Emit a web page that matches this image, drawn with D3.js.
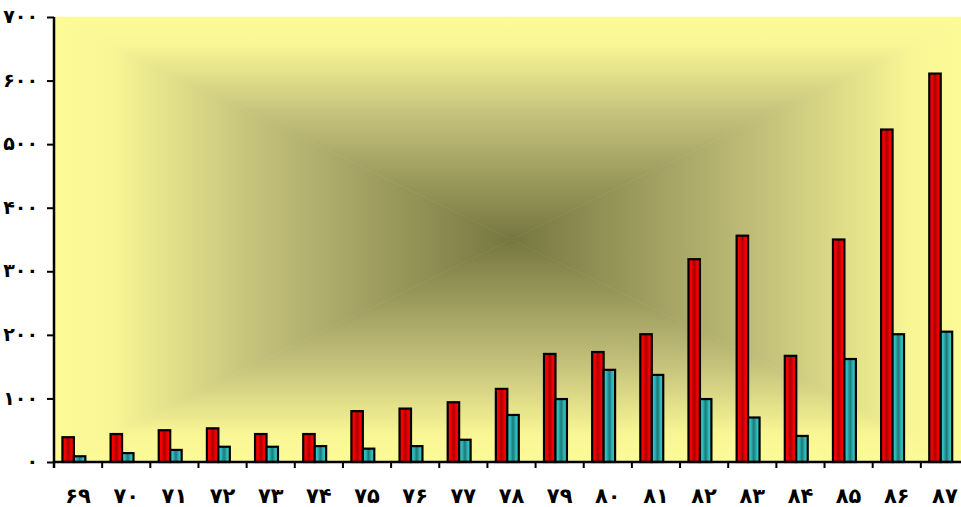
<!DOCTYPE html>
<html>
<head>
<meta charset="utf-8">
<script src="https://cdn.jsdelivr.net/npm/d3@7"></script>
<style>
  body { margin: 0; background: #fff; }
  svg text { font-family: "DejaVu Sans", Tahoma, sans-serif; font-weight: bold; fill: #000; }
</style>
</head>
<body>
<div id="chart"></div>
<script>
var years = [69,70,71,72,73,74,75,76,77,78,79,80,81,82,83,84,85,86,87];
var redValues = [39,44,50,53,44,44,80,84,94,115,170,173,201,319,356,167,350,523,611];
var cyanValues = [9,14,19,24,24,25,21,25,35,74,99,145,137,99,70,41,162,201,205];
var yTicks = [0,100,200,300,400,500,600,700];

var width = 961, height = 507;
var plotLeft = 54, plotRight = 969, plotTop = 17, plotBottom = 462;

function toFa(n){
	var fa = ['۰','۱','۲','۳','۴','۵','۶','۷','۸','۹'];
	return String(n).replace(/[0-9]/g, d => fa[+d]);
}

var svg = d3.select("#chart").append("svg")
	.attr("width", width)
	.attr("height", height);

var defs = svg.append("defs");

var x = d3.scaleBand().domain(years).range([plotLeft, plotRight]).paddingInner(0).paddingOuter(0);
var y = d3.scaleLinear().domain([0, 700]).range([plotBottom, plotTop]);

// background: rectangular gradient from center, done with four triangles
var cx = (plotLeft + plotRight) / 2, cy = (plotTop + plotBottom) / 2;
var bgStops = [[0, "#fdfb98"], [0.12, "#f9f795"], [0.45, "#c2c07a"], [1, "#767641"]];
var sides = [
	{id: "bgTop", pts: [[plotLeft,plotTop],[plotRight,plotTop],[cx,cy]], x1: 0, y1: plotTop, x2: 0, y2: cy},
	{id: "bgBottom", pts: [[plotLeft,plotBottom],[plotRight,plotBottom],[cx,cy]], x1: 0, y1: plotBottom, x2: 0, y2: cy},
	{id: "bgLeft", pts: [[plotLeft,plotTop],[plotLeft,plotBottom],[cx,cy]], x1: plotLeft, y1: 0, x2: cx, y2: 0},
	{id: "bgRight", pts: [[plotRight,plotTop],[plotRight,plotBottom],[cx,cy]], x1: plotRight, y1: 0, x2: cx, y2: 0}
];
sides.forEach(s => {
	var g = defs.append("linearGradient").attr("id", s.id)
		.attr("gradientUnits", "userSpaceOnUse")
		.attr("x1", s.x1).attr("y1", s.y1).attr("x2", s.x2).attr("y2", s.y2);
	bgStops.forEach(st => g.append("stop").attr("offset", st[0]).attr("stop-color", st[1]));
});
svg.append("g").selectAll("polygon")
	.data(sides)
	.enter()
	.append("polygon")
		.attr("points", d => d.pts.map(p => p.join(",")).join(" "))
		.attr("fill", d => "url(#" + d.id + ")")
		.attr("stroke", d => "url(#" + d.id + ")")
		.attr("stroke-width", 0.6);

// bar gradients: bright edges, darker streak in the middle
function barGradient(id, edge, side, mid){
	var g = defs.append("linearGradient").attr("id", id)
		.attr("x1", 0).attr("y1", 0).attr("x2", 1).attr("y2", 0);
	g.append("stop").attr("offset", 0).attr("stop-color", edge);
	g.append("stop").attr("offset", 0.25).attr("stop-color", side);
	g.append("stop").attr("offset", 0.5).attr("stop-color", mid);
	g.append("stop").attr("offset", 0.75).attr("stop-color", side);
	g.append("stop").attr("offset", 1).attr("stop-color", edge);
}
barGradient("redGrad", "#ff0000", "#f20000", "#a80000");
barGradient("cyanGrad", "#36cece", "#2eb8b8", "#1d7878");

var bw = x.bandwidth();
var barOff = bw * 0.175, barW = bw * 0.238;

var bars = svg.append("g");
bars.selectAll("rect.red")
	.data(years)
	.enter()
	.append("rect")
		.attr("class", "red")
		.attr("x", (d,i) => x(d) + barOff)
		.attr("y", (d,i) => y(redValues[i]))
		.attr("width", barW)
		.attr("height", (d,i) => y(0) - y(redValues[i]))
		.attr("fill", "url(#redGrad)")
		.attr("stroke", "#000")
		.attr("stroke-width", 2.2);
bars.selectAll("rect.cyan")
	.data(years)
	.enter()
	.append("rect")
		.attr("class", "cyan")
		.attr("x", (d,i) => x(d) + barOff + barW)
		.attr("y", (d,i) => y(cyanValues[i]))
		.attr("width", barW)
		.attr("height", (d,i) => y(0) - y(cyanValues[i]))
		.attr("fill", "url(#cyanGrad)")
		.attr("stroke", "#000")
		.attr("stroke-width", 2.2);

// y axis
var yAxis = d3.axisLeft(y).tickValues(yTicks).tickSize(7).tickPadding(9).tickFormat(toFa);
var ya = svg.append("g").attr("transform", "translate(" + plotLeft + ",0)").call(yAxis);
ya.select(".domain").attr("stroke-width", 2.5).attr("d", "M0," + plotTop + "V" + (plotBottom + 6));
ya.selectAll(".tick line").attr("stroke-width", 2);
ya.selectAll(".tick text").style("font-size", "19px").attr("dy", "0.3em");

// x axis
var xa = svg.append("g");
xa.append("line")
	.attr("x1", plotLeft).attr("x2", plotRight).attr("y1", plotBottom).attr("y2", plotBottom)
	.attr("stroke", "#000").attr("stroke-width", 2.5);
xa.selectAll("line.tick")
	.data(years.slice(1))
	.enter()
	.append("line")
		.attr("class", "tick")
		.attr("x1", d => x(d)).attr("x2", d => x(d))
		.attr("y1", plotBottom).attr("y2", plotBottom + 6)
		.attr("stroke", "#000").attr("stroke-width", 2);
xa.selectAll("text")
	.data(years)
	.enter()
	.append("text")
		.attr("x", d => x(d) + bw / 2)
		.attr("y", 503)
		.attr("text-anchor", "middle")
		.style("font-size", "21px")
		.text(d => toFa(d));
</script>
</body>
</html>
